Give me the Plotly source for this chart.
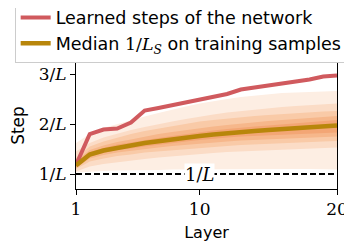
import plotly.graph_objects as go

layers = list(range(1, 21))

learned_steps = [1.18, 1.80, 1.89, 1.91, 2.03, 2.27, 2.32, 2.38, 2.43, 2.50,
                 2.55, 2.60, 2.69, 2.73, 2.77, 2.80, 2.86, 2.89, 2.95, 2.97]
median_inv_ls = [1.17, 1.39, 1.47, 1.53, 1.57, 1.62, 1.66, 1.69, 1.73, 1.76,
                 1.79, 1.82, 1.84, 1.86, 1.88, 1.90, 1.92, 1.94, 1.95, 1.97]

band1_upper = [1.62, 1.80, 1.92, 2.00, 2.08, 2.15, 2.22, 2.29, 2.35, 2.41,
               2.46, 2.50, 2.54, 2.57, 2.60, 2.62, 2.63, 2.64, 2.65, 2.66]
band1_lower = [1.03, 1.05, 1.06, 1.07, 1.07, 1.08, 1.08, 1.09, 1.09, 1.10,
               1.10, 1.10, 1.10, 1.10, 1.10, 1.10, 1.10, 1.10, 1.10, 1.09]
band2_upper = [1.45, 1.62, 1.73, 1.81, 1.88, 1.94, 2.00, 2.05, 2.10, 2.15,
               2.19, 2.23, 2.26, 2.29, 2.32, 2.34, 2.36, 2.38, 2.40, 2.41]
band2_lower = [1.05, 1.15, 1.20, 1.24, 1.27, 1.30, 1.33, 1.36, 1.38, 1.40,
               1.42, 1.44, 1.45, 1.47, 1.48, 1.49, 1.50, 1.51, 1.52, 1.53]
band3_upper = [1.32, 1.55, 1.65, 1.73, 1.80, 1.86, 1.91, 1.96, 2.01, 2.05,
               2.08, 2.11, 2.14, 2.16, 2.18, 2.20, 2.22, 2.23, 2.25, 2.26]
band3_lower = [1.10, 1.25, 1.31, 1.36, 1.39, 1.43, 1.46, 1.48, 1.50, 1.52,
               1.54, 1.56, 1.58, 1.59, 1.61, 1.62, 1.63, 1.64, 1.65, 1.66]
band4_upper = [1.26, 1.48, 1.57, 1.64, 1.69, 1.75, 1.80, 1.84, 1.88, 1.92,
               1.95, 1.98, 2.01, 2.03, 2.06, 2.08, 2.10, 2.12, 2.14, 2.16]
band4_lower = [1.12, 1.31, 1.38, 1.43, 1.46, 1.50, 1.53, 1.56, 1.59, 1.61,
               1.63, 1.65, 1.67, 1.69, 1.70, 1.71, 1.72, 1.73, 1.74, 1.75]
band5_upper = [1.22, 1.44, 1.52, 1.59, 1.63, 1.68, 1.72, 1.76, 1.80, 1.84,
               1.87, 1.90, 1.93, 1.95, 1.97, 1.99, 2.02, 2.04, 2.06, 2.08]
band5_lower = [1.14, 1.35, 1.42, 1.48, 1.51, 1.55, 1.59, 1.62, 1.65, 1.68,
               1.71, 1.73, 1.75, 1.77, 1.78, 1.79, 1.80, 1.81, 1.82, 1.83]

reference_step = 1.0
y_tick_vals = [1, 2, 3]
y_tick_text = ["1/<i>L</i>", "2/<i>L</i>", "3/<i>L</i>"]
x_tick_vals = [1, 10, 20]
x_tick_text = ["1", "10", "20"]

bands = [
    (band1_upper, band1_lower, "#fdeee3"),
    (band2_upper, band2_lower, "#fbdcc6"),
    (band3_upper, band3_lower, "#f9caa7"),
    (band4_upper, band4_lower, "#f6b78b"),
    (band5_upper, band5_lower, "#f3a675"),
]

SANS = "DejaVu Sans"
SERIF = "DejaVu Serif"

fig = go.Figure()

for up, lo, col in bands:
    fig.add_trace(go.Scatter(
        x=layers + layers[::-1], y=up + lo[::-1], fill="toself",
        fillcolor=col, line=dict(width=0), mode="lines",
        showlegend=False, hoverinfo="skip"))

fig.add_trace(go.Scatter(
    x=[layers[0], layers[-1]], y=[reference_step, reference_step], mode="lines",
    line=dict(color="black", width=2, dash="6px,3px"), showlegend=False))

fig.add_trace(go.Scatter(
    x=layers, y=learned_steps, mode="lines",
    line=dict(color="#d05a5e", width=4), legendgroup="a",
    name="Learned steps of the network"))

fig.add_trace(go.Scatter(
    x=layers, y=median_inv_ls, mode="lines",
    line=dict(color="#b8860b", width=4.5), legendgroup="b",
    name="Median <span style=\"font-family:DejaVu Serif\">1/<i>L</i><sub><i>S</i></sub></span> on training samples"))

fig.add_annotation(
    x=10, y=reference_step, text="1/<i>L</i>", showarrow=False,
    bgcolor="white", font=dict(family=SERIF, size=18, color="black"),
    borderpad=0)

# The page body has an 8px margin, so margins are offset by 8px
fig.update_layout(
    width=352, height=248,
    margin=dict(l=68, r=23, t=54, b=67, autoexpand=False),
    paper_bgcolor="white", plot_bgcolor="white",
    font=dict(family=SANS, size=16, color="black"),
    legend=dict(
        x=-0.235, y=1.50, xanchor="left", yanchor="top",
        bgcolor="white", bordercolor="#cccccc", borderwidth=1,
        font=dict(family=SANS, size=17.5), tracegroupgap=0,
        itemwidth=30),
    showlegend=True,
)

fig.update_xaxes(
    range=[1, 20], tickvals=x_tick_vals, ticktext=x_tick_text,
    showline=True, linecolor="black", linewidth=1, mirror=True,
    ticks="outside", ticklen=5, tickcolor="black", showgrid=False, zeroline=False,
    tickfont=dict(family=SERIF, size=17),
    title=dict(text="Layer", font=dict(family=SANS, size=16), standoff=8))

fig.update_yaxes(
    range=[0.7, 3.24], tickvals=y_tick_vals, ticktext=y_tick_text,
    showline=True, linecolor="black", linewidth=1, mirror=True,
    ticks="outside", ticklen=5, tickcolor="black", showgrid=False, zeroline=False,
    tickfont=dict(family=SERIF, size=17),
    title=dict(text="Step", font=dict(family=SANS, size=17), standoff=10))

fig.write_html("out.html")
